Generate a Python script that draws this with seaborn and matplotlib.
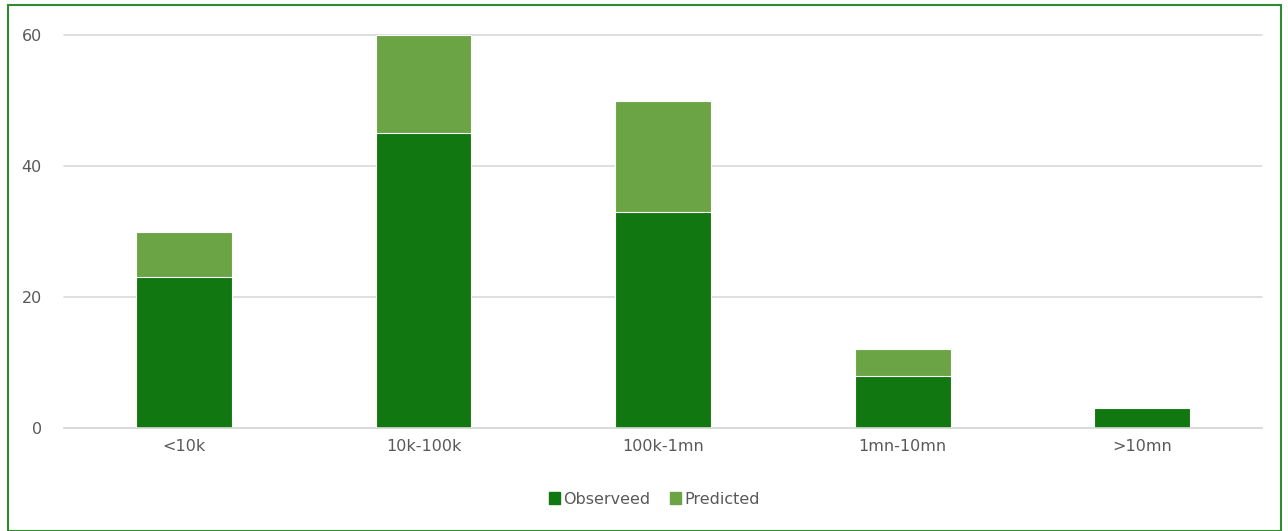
import matplotlib
matplotlib.use('Agg')
import matplotlib.pyplot as plt
import seaborn as sns
import pandas as pd
from matplotlib.patches import Rectangle, Patch

categories = ['<10k', '10k-100k', '100k-1mn', '1mn-10mn', '>10mn']
observed = [23, 45, 33, 8, 3]
predicted = [7, 15, 17, 4, 0]
yticks = [0, 20, 40, 60]

sns.set_theme(style='white')
plt.rcParams['font.family'] = ['DejaVu Sans']

df = pd.DataFrame({'category': categories, 'observed': observed, 'predicted': predicted})
df['total'] = df['observed'] + df['predicted']

dark = '#117711'
light = '#6aa444'
text_col = '#595959'

fig = plt.figure(figsize=(12.88, 5.31), dpi=100)
ax = fig.add_axes([0.0497, 0.194, 0.9303, 0.74])

# stacked: totals behind, observed in front
sns.barplot(data=df, x='category', y='total', color=light, width=0.4,
            edgecolor='white', linewidth=0.8, saturation=1, ax=ax)
sns.barplot(data=df, x='category', y='observed', color=dark, width=0.4,
            edgecolor='white', linewidth=0.8, saturation=1, ax=ax)

ax.set_ylim(0, 60)
ax.set_xlim(-0.5, len(categories) - 0.5)
ax.set_yticks(yticks)
ax.yaxis.grid(True, color='#d9d9d9', linewidth=1.2)
for gl in ax.yaxis.get_gridlines():
    gl.set_clip_on(False)
ax.set_axisbelow(True)
for s in ['top', 'right', 'left']:
    ax.spines[s].set_visible(False)
ax.spines['bottom'].set_color('#d9d9d9')
ax.spines['bottom'].set_linewidth(1.2)
ax.tick_params(axis='both', length=0, labelsize=11.5, colors=text_col)
ax.tick_params(axis='y', pad=16)
ax.tick_params(axis='x', pad=8)
ax.set_xlabel('')
ax.set_ylabel('')

handles = [Patch(color=dark, label='Observeed'), Patch(color=light, label='Predicted')]
fig.legend(handles=handles, loc='center', bbox_to_anchor=(0.508, 0.06), ncol=2,
           frameon=False, fontsize=11.5, labelcolor=text_col, handlelength=0.7,
           handleheight=0.7, handletextpad=0.2, columnspacing=1.2)

# outer border
fig.patches.append(Rectangle((8 / 1288, 0), 1273 / 1288, 526 / 531, transform=fig.transFigure,
                             fill=False, edgecolor='#2e8b2e', linewidth=1.5))

fig.savefig('out.png', dpi=100)
